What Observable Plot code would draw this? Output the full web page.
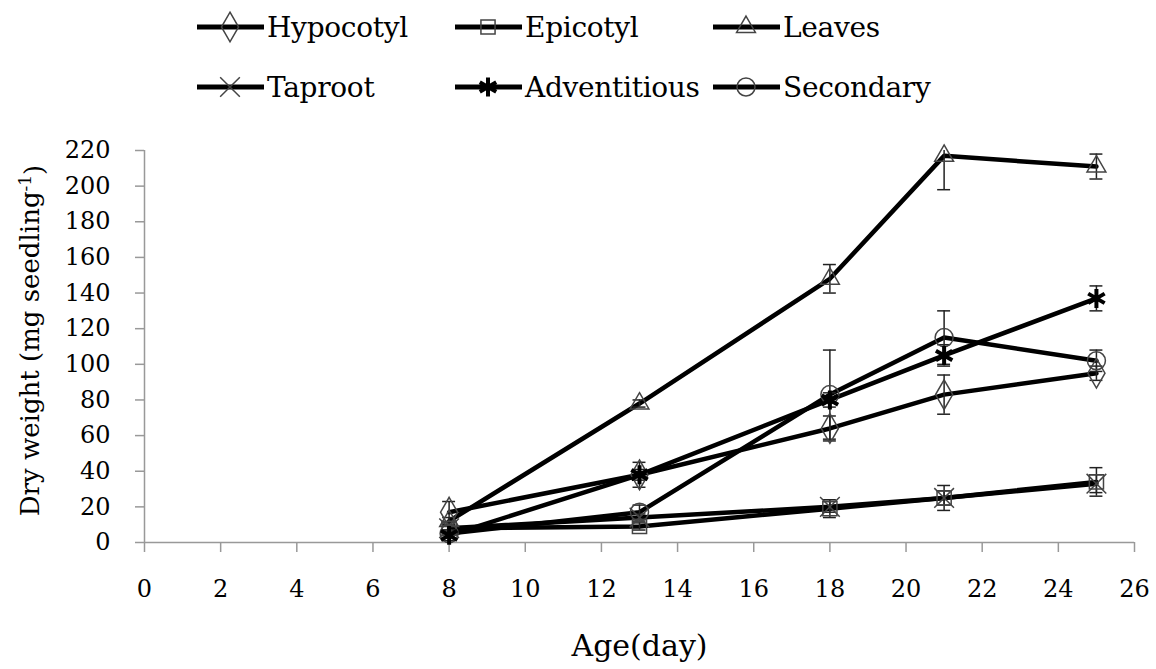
<!DOCTYPE html>
<html>
<head>
<meta charset="utf-8">
<script src="https://cdn.jsdelivr.net/npm/d3@7"></script>
<script src="https://cdn.jsdelivr.net/npm/@observablehq/plot@0.6"></script>
<style>
  html, body { margin: 0; padding: 0; background: white; }
  #legend { position: relative; width: 1156px; height: 115px; font-family: "DejaVu Serif", serif; font-size: 28px; color: black; }
  .item { position: absolute; display: flex; align-items: center; height: 40px; white-space: nowrap; }
  .item svg { display: block; }
  .item span { margin-left: 3px; letter-spacing: -0.3px; }
  #chart svg { display: block; }
</style>
</head>
<body>
<div id="legend"></div>
<div id="chart"></div>
<script>
// ---- data ----
const days = [8, 13, 18, 21, 25];
const seriesNames = ["Hypocotyl", "Epicotyl", "Leaves", "Taproot", "Adventitious", "Secondary"];
const hypocotyl    = [17, 38, 64, 83, 95];
const hypocotylErr = [6, 3, 7, 11, 4];
const epicotyl     = [8, 9, 19, 25, 34];
const epicotylErr  = [2, 2, 5, 7, 8];
const leaves       = [12, 78, 148, 217, 211];
const leavesErr    = [2, 2, 8, 19, 7];
const taproot      = [8, 14, 20, 25, 33];
const taprootErr   = [2, 2, 3, 4, 5];
const adventitious    = [4, 38, 80, 105, 137];
const adventitiousErr = [3, 7, 4, 6, 7];
const secondary    = [5, 17, 83, 115, 102];
const secondaryErr = [2, 4, 25, 15, 6];
const xTicks = [0, 2, 4, 6, 8, 10, 12, 14, 16, 18, 20, 22, 24, 26];
const yTicks = [0, 20, 40, 60, 80, 100, 120, 140, 160, 180, 200, 220];
const xLabel = "Age(day)";
const yLabelMain = "Dry weight (mg seedling";
const yLabelSup = "-1";
const yLabelEnd = ")";

const values = [hypocotyl, epicotyl, leaves, taproot, adventitious, secondary];
const errors = [hypocotylErr, epicotylErr, leavesErr, taprootErr, adventitiousErr, secondaryErr];
const symbolNames = ["diamond", "square2", "triangle2", "times", "asterisk", "circle"];
const d3Symbols = [d3.symbolDiamond, d3.symbolSquare2, d3.symbolTriangle2, d3.symbolTimes, d3.symbolAsterisk, d3.symbolCircle];

const data = [];
seriesNames.forEach((s, i) => {
  days.forEach((d, j) => {
    data.push({series: s, day: d, value: values[i][j], lo: values[i][j] - errors[i][j], hi: values[i][j] + errors[i][j]});
  });
});

// ---- legend ----
const legend = d3.select("#legend");
const cols = [197, 455, 713];
const rows = [7, 67];
const R = 9;
seriesNames.forEach((s, i) => {
  const item = legend.append("div").attr("class", "item")
    .style("left", cols[i % 3] + "px").style("top", rows[Math.floor(i / 3)] + "px");
  const svg = item.append("svg").attr("width", 67).attr("height", 40);
  svg.append("line").attr("x1", 0).attr("x2", 67).attr("y1", 20).attr("y2", 20)
    .attr("stroke", "black").attr("stroke-width", 5);
  const bold = s === "Adventitious";
  svg.append("path").attr("transform", "translate(33,20)")
    .attr("d", d3.symbol(d3Symbols[i], Math.PI * R * R)())
    .attr("fill", "none").attr("stroke", bold ? "black" : "#444")
    .attr("stroke-width", bold ? 4 : 1.5);
  item.append("span").text(s);
});

// ---- chart ----
const thin = data.filter(d => d.series !== "Adventitious");
const bold = data.filter(d => d.series === "Adventitious");
const chart = Plot.plot({
  width: 1156,
  height: 554,
  marginTop: 35,
  marginBottom: 127,
  marginLeft: 144,
  marginRight: 22,
  style: {fontFamily: "DejaVu Serif, serif", fontSize: "24px", color: "black", background: "white", overflow: "visible"},
  x: {domain: [0, 26]},
  y: {domain: [0, 220]},
  symbol: {domain: seriesNames, range: symbolNames},
  marks: [
    Plot.axisX({ticks: xTicks, tickSize: 10, tickPadding: 27, stroke: "#999", strokeWidth: 1.5, fill: "black", label: null, tickFormat: d => d}),
    Plot.axisY({ticks: yTicks, tickSize: 9, tickPadding: 25, stroke: "#999", strokeWidth: 1.5, fill: "black", label: null, tickFormat: d => d}),
    Plot.ruleY([0], {stroke: "#999", strokeWidth: 1.5}),
    Plot.ruleX([0], {stroke: "#999", strokeWidth: 1.5}),
    Plot.line(data, {x: "day", y: "value", z: "series", stroke: "black", strokeWidth: 4.5}),
    Plot.ruleX(data, {x: "day", y1: "lo", y2: "hi", stroke: "#222", strokeWidth: 1.5, clip: true}),
    Plot.ruleY(data, {y: "hi", x1: d => d.day - 0.17, x2: d => d.day + 0.17, stroke: "#222", strokeWidth: 1.5, clip: true}),
    Plot.ruleY(data, {y: "lo", x1: d => d.day - 0.17, x2: d => d.day + 0.17, stroke: "#222", strokeWidth: 1.5, clip: true}),
    Plot.dot(thin, {x: "day", y: "value", symbol: "series", r: R, stroke: "#444", strokeWidth: 1.5, fill: "none"}),
    Plot.dot(bold, {x: "day", y: "value", symbol: "series", r: R, stroke: "black", strokeWidth: 4, fill: "none"}),
    Plot.text([yLabelMain], {frameAnchor: "left", textAnchor: "middle", dx: -114, dy: -6, rotate: -90, fontSize: 26, fill: "black", className: "ylab"}),
    Plot.text([xLabel], {frameAnchor: "bottom", textAnchor: "middle", dy: 113, fontSize: 30, fill: "black"})
  ]
});
// add the superscript to the y-axis title
const yt = d3.select(chart).select(".ylab text");
yt.append("tspan").attr("dy", "-0.45em").attr("font-size", 17).text(yLabelSup);
yt.append("tspan").attr("dy", "0.45em").text(yLabelEnd);
document.getElementById("chart").appendChild(chart);
</script>
</body>
</html>
